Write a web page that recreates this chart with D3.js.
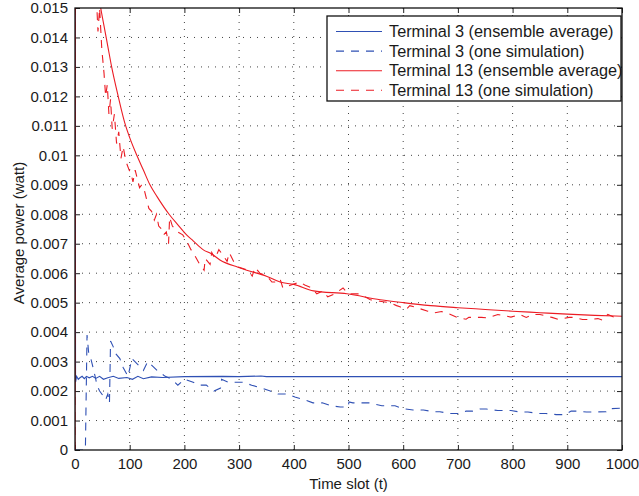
<!DOCTYPE html>
<html>
<head>
<meta charset="utf-8">
<script src="https://cdn.jsdelivr.net/npm/d3@7"></script>
<style>
  body { margin: 0; background: #fff; }
  svg { display: block; font-family: "Liberation Sans", Arial, Helvetica, sans-serif; }
</style>
</head>
<body>
<div id="chart"></div>
<script>
// tick values / labels
const xTicks = [0, 100, 200, 300, 400, 500, 600, 700, 800, 900, 1000];
const yTicks = [0, 0.001, 0.002, 0.003, 0.004, 0.005, 0.006, 0.007, 0.008, 0.009, 0.010, 0.011, 0.012, 0.013, 0.014, 0.015];
const yTickLabels = ["0", "0.001", "0.002", "0.003", "0.004", "0.005", "0.006", "0.007", "0.008", "0.009", "0.01", "0.011", "0.012", "0.013", "0.014", "0.015"];

const legendLabels = [
    "Terminal 3 (ensemble average)",
    "Terminal 3 (one simulation)",
    "Terminal 13 (ensemble average)",
    "Terminal 13 (one simulation)"
];

// [time slot, average power]
const term3Avg = [
    [0, 0.02], [1, 0.0023], [3, 0.0025], [6, 0.0024], [9, 0.00245], [13, 0.0025], [17, 0.00242],
    [21, 0.0025], [26, 0.00245], [32, 0.0025], [38, 0.00243], [45, 0.0025], [52, 0.0024],
    [60, 0.00245], [70, 0.0025], [80, 0.00243], [95, 0.00246], [105, 0.0024], [115, 0.0025],
    [125, 0.00242], [140, 0.00248], [160, 0.00246], [200, 0.00249], [270, 0.0025],
    [300, 0.00249], [340, 0.00251], [350, 0.00249], [1000, 0.00249]
];

const term3Sim = [
    [0, 0], [19, 0], [22, 0.0039], [25, 0.0033], [29, 0.0031], [33, 0.0028], [38, 0.0024],
    [40, 0.0022], [45, 0.002], [49, 0.0019], [56, 0.0017], [60, 0.0019], [63, 0.0016],
    [65, 0.0037], [70, 0.0035], [73, 0.0033], [82, 0.0031], [88, 0.0028], [97, 0.0025],
    [104, 0.0031], [115, 0.0029], [125, 0.0027], [133, 0.003], [139, 0.0029], [150, 0.0027],
    [165, 0.0025], [177, 0.0024], [188, 0.0022], [200, 0.0024], [216, 0.0023], [228, 0.0022],
    [240, 0.0022], [247, 0.0021], [254, 0.002], [266, 0.0021], [268, 0.0024], [280, 0.0023],
    [307, 0.0023], [323, 0.0022], [342, 0.0021], [357, 0.002], [371, 0.0019], [388, 0.0019],
    [402, 0.0018], [420, 0.0017], [435, 0.0016], [452, 0.0016], [468, 0.0015], [485, 0.00146],
    [499, 0.00146], [501, 0.00163], [508, 0.0016], [521, 0.0016], [537, 0.0016], [561, 0.0015],
    [585, 0.0015], [600, 0.0014], [618, 0.00136], [637, 0.00136], [655, 0.0013], [667, 0.0013],
    [684, 0.00124], [700, 0.00124], [715, 0.00132], [727, 0.00132], [740, 0.00139], [752, 0.00139],
    [773, 0.00134], [797, 0.00134], [813, 0.00129], [828, 0.00129], [846, 0.00124], [861, 0.00124],
    [880, 0.0012], [895, 0.0012], [907, 0.00132], [919, 0.00132], [935, 0.00129], [950, 0.00129],
    [971, 0.0013], [975, 0.0014], [1000, 0.00142]
];

const term13Avg = [
    [0, 0], [1, 0.05], [10, 0.03], [20, 0.022], [30, 0.0185], [40, 0.0158], [47, 0.015],
    [55, 0.0142], [60, 0.0137], [67, 0.013], [79, 0.012], [91, 0.0111], [100, 0.0106],
    [113, 0.01], [125, 0.0095], [137, 0.009], [150, 0.0086], [172, 0.008], [190, 0.0076],
    [204, 0.0073], [216, 0.0071], [234, 0.0068], [250, 0.00665], [265, 0.00645], [298, 0.0062],
    [314, 0.0061], [350, 0.0059], [375, 0.0057], [400, 0.00562], [436, 0.0054], [497, 0.0053],
    [558, 0.0051], [600, 0.005], [650, 0.0049], [700, 0.00483], [750, 0.00477], [800, 0.00471],
    [850, 0.00466], [900, 0.00461], [950, 0.00457], [1000, 0.00454]
];

const term13Sim = [
    [0, 0], [1, 0.04], [10, 0.03], [20, 0.022], [30, 0.018], [38, 0.0158], [42, 0.0142],
    [45, 0.015], [49, 0.0136], [53, 0.0128], [56, 0.012], [59, 0.0124], [62, 0.0114],
    [65, 0.0119], [68, 0.0109], [72, 0.0114], [76, 0.0104], [80, 0.0108], [84, 0.0099],
    [88, 0.0103], [93, 0.0098], [99, 0.0095], [102, 0.0094], [106, 0.0091], [110, 0.0095],
    [114, 0.0092], [118, 0.0089], [122, 0.009], [127, 0.0088], [131, 0.0085], [135, 0.0082],
    [140, 0.0081], [145, 0.0078], [149, 0.008], [153, 0.0076], [158, 0.0075], [162, 0.0073],
    [167, 0.0074], [171, 0.007], [173, 0.0079], [178, 0.0076], [188, 0.0074], [197, 0.0073],
    [204, 0.0071], [212, 0.0068], [219, 0.0066], [228, 0.0063], [236, 0.0061], [238, 0.0065],
    [247, 0.0063], [250, 0.0067], [256, 0.0065], [263, 0.0068], [271, 0.0066], [278, 0.0064],
    [282, 0.0067], [290, 0.0064], [300, 0.0062], [316, 0.0061], [324, 0.0059], [329, 0.0062],
    [338, 0.006], [351, 0.0059], [360, 0.0057], [370, 0.0057], [375, 0.0058], [380, 0.0055],
    [395, 0.0056], [411, 0.0057], [420, 0.0056], [433, 0.0055], [442, 0.0053], [453, 0.0054],
    [462, 0.0052], [475, 0.0053], [490, 0.0055], [499, 0.0053], [510, 0.0053], [521, 0.0053],
    [530, 0.0052], [540, 0.0051], [557, 0.00505], [575, 0.005], [588, 0.0049], [594, 0.00486],
    [606, 0.00478], [612, 0.0049], [630, 0.0048], [645, 0.00471], [655, 0.00465], [670, 0.0047],
    [683, 0.00463], [700, 0.00449], [715, 0.00444], [720, 0.0045], [743, 0.0045], [755, 0.00448],
    [773, 0.0046], [797, 0.00451], [813, 0.0046], [825, 0.0045], [838, 0.0046], [850, 0.0046],
    [872, 0.0045], [884, 0.00443], [903, 0.0045], [912, 0.0045], [928, 0.00443], [940, 0.00443],
    [956, 0.00446], [965, 0.0044], [974, 0.0046], [986, 0.0045], [995, 0.0046]
];

const blue = "#2f50b4", red = "#ec1c24";

const margin = {top: 8, right: 17, bottom: 46, left: 75},
    width = 639 - margin.left - margin.right,
    height = 496 - margin.top - margin.bottom;

const svg = d3.select("#chart")
    .append("svg")
    .attr("width", width + margin.left + margin.right)
    .attr("height", height + margin.top + margin.bottom)
    .append("g")
    .attr("transform", `translate(${margin.left},${margin.top})`);

const x = d3.scaleLinear().domain([0, 1000]).range([0, width]);
const y = d3.scaleLinear().domain([0, 0.015]).range([height, 0]);

// dotted grid
svg.append("g")
    .selectAll("line")
    .data(xTicks.slice(1, -1))
    .join("line")
    .attr("x1", d => x(d)).attr("x2", d => x(d))
    .attr("y1", 0).attr("y2", height)
    .attr("stroke", "#444").attr("stroke-dasharray", "1,6");
svg.append("g")
    .selectAll("line")
    .data(yTicks.slice(1, -1))
    .join("line")
    .attr("y1", d => y(d)).attr("y2", d => y(d))
    .attr("x1", 0).attr("x2", width)
    .attr("stroke", "#444").attr("stroke-dasharray", "1,6");

// axes, ticks pointing inward like matlab
const fmtY = d => yTickLabels[yTicks.indexOf(d)];
svg.append("g")
    .attr("transform", `translate(0,${height})`)
    .call(d3.axisBottom(x).tickValues(xTicks).tickFormat(d3.format("d")).tickSizeInner(-5).tickSizeOuter(0).tickPadding(8));
svg.append("g")
    .call(d3.axisLeft(y).tickValues(yTicks).tickFormat(fmtY).tickSizeInner(-5).tickSizeOuter(0).tickPadding(7));
svg.append("g")
    .call(d3.axisTop(x).tickValues(xTicks).tickFormat("").tickSizeInner(-5).tickSizeOuter(0));
svg.append("g")
    .attr("transform", `translate(${width},0)`)
    .call(d3.axisRight(y).tickValues(yTicks).tickFormat("").tickSizeInner(-5).tickSizeOuter(0));
svg.selectAll(".domain").remove();
svg.selectAll(".tick line").attr("stroke", "#222");
svg.selectAll(".tick text").attr("fill", "#1a1a1a").style("font-size", "15px")
    .style("font-family", "'Liberation Sans', Arial, sans-serif");

// clipped data lines
svg.append("clipPath").attr("id", "clip")
    .append("rect").attr("width", width).attr("height", height);

const line = d3.line().x(d => x(d[0])).y(d => y(d[1]));
const smooth = d3.line().curve(d3.curveMonotoneX).x(d => x(d[0])).y(d => y(d[1]));
const series = [
    {data: term3Avg, color: blue, dash: null, gen: line},
    {data: term3Sim, color: blue, dash: "8,7", gen: line},
    {data: term13Avg, color: red, dash: null, gen: smooth},
    {data: term13Sim, color: red, dash: "8,7", gen: line}
];
const plot = svg.append("g").attr("clip-path", "url(#clip)");
series.forEach(s => {
    plot.append("path")
        .datum(s.data)
        .attr("d", s.gen)
        .attr("fill", "none")
        .attr("stroke", s.color)
        .attr("stroke-width", 1.1)
        .attr("stroke-dasharray", s.dash);
});

// frame
svg.append("rect")
    .attr("width", width).attr("height", height)
    .attr("fill", "none").attr("stroke", "#111").attr("stroke-width", 1.3);

// axis labels
svg.append("text")
    .attr("x", width / 2).attr("y", height + 39)
    .attr("text-anchor", "middle")
    .style("font-size", "15px").attr("fill", "#1a1a1a")
    .text("Time slot (t)");
svg.append("text")
    .attr("transform", `translate(${24 - margin.left},${height / 2 + 4})rotate(-90)`)
    .attr("text-anchor", "middle")
    .style("font-size", "15px").attr("fill", "#1a1a1a")
    .text("Average power (watt)");

// legend
const legend = svg.append("g").attr("transform", "translate(252,8)");
legend.append("rect")
    .attr("width", 294).attr("height", 85)
    .attr("fill", "#fff").attr("stroke", "#111").attr("stroke-width", 1.3);
legendLabels.forEach((label, i) => {
    const ly = 15.5 + i * 19.6;
    legend.append("line")
        .attr("x1", 9).attr("x2", 55).attr("y1", ly).attr("y2", ly)
        .attr("stroke", series[i].color).attr("stroke-width", 1.1)
        .attr("stroke-dasharray", series[i].dash);
    legend.append("text")
        .attr("x", 62).attr("y", ly + 5.5)
        .style("font-size", "16.3px").attr("fill", "#1a1a1a")
        .text(label);
});
</script>
</body>
</html>
